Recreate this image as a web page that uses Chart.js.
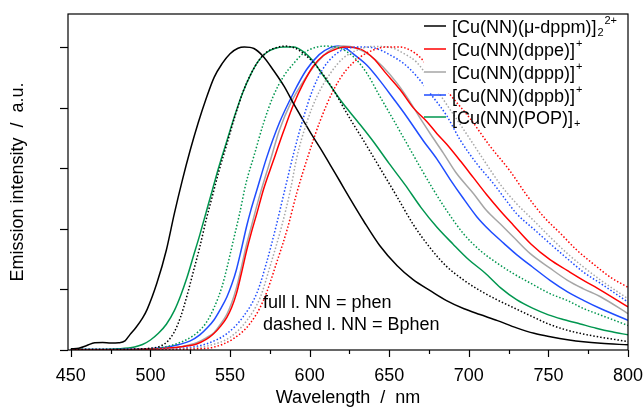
<!DOCTYPE html>
<html><head><meta charset="utf-8">
<script src="https://cdn.jsdelivr.net/npm/chart.js@4/dist/chart.umd.min.js"></script>
<style>html,body{margin:0;padding:0;background:#fff;}#wrap{width:643px;height:412px;}</style>
</head><body><div id="wrap"><canvas id="c" width="643" height="412"></canvas></div>
<script>
// ---- axis ticks ----
const wavelengthTicks = [450,475,500,525,550,575,600,625,650,675,700,725,750,775,800];
const wavelengthLabels = [450,500,550,600,650,700,750,800];
const intensityTicks = [0,0.2,0.4,0.6,0.8,1.0];

// ---- series (wavelength nm, normalised intensity) ----
// full lines: NN = phen
const phenDppm = [[450,0.004],[455,0.006],[460,0.015],[465,0.024],[470,0.025],[475,0.023],[480,0.024],[484,0.03],[487,0.05],[491,0.075],[495,0.105],[498,0.135],[504,0.22],[510,0.33],[515,0.45],[520,0.56],[525,0.66],[530,0.75],[535,0.83],[540,0.9],[545,0.945],[550,0.978],[555,0.996],[559,1.0],[565,0.995],[571,0.968],[577,0.925],[584,0.87],[590,0.812],[596,0.758],[602,0.705],[608,0.655],[613,0.61],[619,0.557],[625,0.503],[634,0.425],[644,0.345],[655,0.278],[665,0.232],[676,0.195],[686,0.163],[697,0.136],[707,0.117],[718,0.097],[730,0.073],[741,0.055],[752,0.043],[762,0.034],[772,0.027],[783,0.022],[800,0.017]];
const phenDppe = [[450,0.001],[480,0.001],[500,0.003],[510,0.006],[520,0.011],[529,0.02],[535,0.035],[539.5,0.053],[544,0.078],[548,0.108],[551,0.14],[554,0.186],[557,0.25],[560.5,0.33],[563.5,0.39],[566.8,0.45],[571,0.53],[577,0.622],[583.5,0.72],[590,0.812],[596,0.88],[602,0.935],[608.6,0.972],[615,0.99],[622,1.0],[632,0.993],[640,0.963],[648,0.913],[657,0.858],[665,0.8],[674,0.752],[680,0.714],[686,0.68],[695,0.622],[703,0.568],[711,0.514],[720,0.458],[728,0.412],[739,0.35],[751,0.298],[762,0.262],[772,0.23],[783,0.197],[800,0.142]];
const phenDppp = [[450,0.001],[480,0.001],[510,0.006],[520,0.012],[529,0.024],[535,0.04],[540,0.058],[544,0.085],[548,0.118],[551,0.155],[554,0.205],[557,0.27],[560,0.34],[563,0.4],[566,0.46],[569,0.517],[575,0.62],[581,0.725],[588,0.814],[598,0.902],[606.5,0.96],[615,0.996],[621,1.003],[629.6,0.996],[638,0.972],[646,0.935],[655,0.88],[663,0.82],[669.4,0.765],[676,0.712],[684,0.65],[692,0.585],[703,0.516],[711,0.461],[720,0.415],[728,0.373],[738.6,0.318],[751,0.27],[762,0.23],[772,0.202],[783,0.175],[800,0.12]];
const phenDppb = [[450,0.001],[480,0.002],[500,0.004],[510,0.009],[518,0.018],[525,0.03],[531,0.05],[536,0.075],[540,0.1],[544,0.135],[548,0.175],[551,0.215],[554,0.265],[557,0.33],[560.5,0.41],[563,0.46],[566.8,0.527],[573,0.635],[581,0.75],[590,0.85],[598,0.925],[606,0.975],[613,0.998],[618,1.003],[623,0.995],[628,0.975],[636,0.94],[644,0.89],[652.6,0.83],[661,0.77],[671.5,0.69],[680,0.63],[688,0.565],[696.6,0.5],[705,0.44],[713,0.395],[722,0.352],[730,0.315],[740,0.274],[751,0.23],[762,0.192],[772,0.164],[783,0.136],[800,0.098]];
const phenPop = [[450,0.002],[470,0.002],[480,0.004],[490,0.01],[495,0.018],[500,0.033],[505,0.055],[510,0.085],[515,0.13],[519,0.18],[523,0.24],[527,0.31],[531,0.38],[535,0.455],[539,0.53],[543,0.605],[548,0.69],[553,0.775],[558,0.85],[563,0.91],[568,0.955],[573,0.982],[578,0.995],[584,1.0],[590,1.0],[596,0.985],[602,0.955],[608,0.91],[614,0.865],[620,0.82],[630,0.755],[640,0.688],[650,0.615],[660,0.545],[670,0.47],[680,0.405],[690,0.35],[700,0.298],[710,0.255],[720,0.205],[730,0.166],[740,0.138],[750,0.116],[760,0.1],[770,0.086],[780,0.072],[790,0.06],[800,0.05]];
// dashed lines: NN = Bphen
const bphenDppm = [[450,0.002],[490,0.003],[500,0.006],[506,0.012],[511,0.03],[515,0.06],[519,0.11],[523,0.18],[527,0.26],[531,0.34],[535,0.43],[539,0.51],[543,0.59],[548,0.68],[553,0.77],[558,0.85],[563,0.91],[568,0.955],[573,0.983],[579,0.998],[585,1.003],[591,0.996],[597,0.975],[603,0.945],[609,0.905],[615,0.858],[620,0.812],[626,0.758],[634,0.69],[644,0.602],[655,0.505],[665,0.415],[676,0.335],[686,0.276],[697,0.23],[707,0.196],[718,0.165],[728,0.14],[740,0.11],[750,0.086],[760,0.068],[770,0.055],[783,0.042],[800,0.028]];
const bphenDppe = [[450,0.001],[500,0.001],[530,0.004],[539.5,0.009],[552,0.037],[562.5,0.087],[571,0.164],[580,0.3],[586,0.4],[592,0.52],[599,0.64],[606.5,0.755],[615,0.858],[623,0.924],[632,0.968],[640,0.99],[648,1.0],[657,1.0],[663,0.99],[669,0.968],[679,0.905],[688.7,0.84],[700.8,0.764],[713,0.675],[726,0.59],[736.5,0.51],[747,0.44],[757.5,0.385],[768,0.329],[778,0.285],[789,0.24],[800,0.207]];
const bphenDppp = [[450,0.001],[500,0.002],[525,0.006],[537,0.015],[550,0.042],[560.5,0.097],[569,0.174],[575,0.274],[582.5,0.41],[588,0.53],[592,0.637],[598,0.748],[604.5,0.836],[613,0.913],[621,0.963],[630,0.99],[640,1.002],[650.5,0.999],[659,0.979],[667,0.951],[677,0.88],[688.7,0.79],[699,0.71],[709,0.63],[720,0.545],[730,0.483],[740.6,0.428],[751,0.373],[762,0.318],[772,0.274],[783,0.23],[800,0.169]];
const bphenDppb = [[450,0.001],[500,0.002],[520,0.006],[535,0.02],[548,0.054],[558,0.108],[567,0.19],[573,0.29],[579,0.41],[584,0.52],[590,0.65],[596,0.765],[602,0.86],[608,0.925],[615,0.97],[623,0.995],[634,1.0],[642,0.995],[650.5,0.974],[659,0.946],[667,0.905],[676,0.845],[686,0.774],[694.6,0.693],[705,0.615],[715.5,0.549],[724,0.49],[730,0.45],[740.6,0.4],[751,0.351],[762,0.301],[772,0.257],[783,0.219],[800,0.158]];
const bphenPop = [[450,0.001],[470,0.001],[500,0.004],[508,0.009],[515,0.018],[523,0.035],[530,0.06],[535,0.09],[540,0.14],[545,0.21],[548,0.27],[552,0.36],[556,0.45],[560,0.55],[565,0.64],[571,0.748],[577,0.836],[583.5,0.902],[590,0.946],[596,0.979],[604.5,1.0],[611,1.003],[619,0.996],[627.5,0.968],[636,0.913],[644,0.838],[652.6,0.76],[661,0.682],[669.4,0.604],[678,0.527],[686,0.461],[696.6,0.384],[707,0.329],[718,0.286],[728,0.252],[740,0.217],[751,0.186],[762,0.163],[772,0.137],[783,0.115],[800,0.081]];

const seriesColors = ['#000000','#ff0000','#a6a6a6','#1f4dff','#00964f'];
const legendLabels = [
  [['[Cu(NN)(μ-dppm)]',0],['2',-1],['2+',1]],
  [['[Cu(NN)(dppe)]',0],['+',1]],
  [['[Cu(NN)(dppp)]',0],['+',1]],
  [['[Cu(NN)(dppb)]',0],['+',1]],
  [['[Cu(NN)(POP)]',0],['+',-1]]
];
const noteLines = ['full l. NN = phen','dashed l. NN = Bphen'];

const FONT = '"Liberation Sans", Arial, sans-serif';
const fullSeries = [phenDppm, phenDppe, phenDppp, phenDppb, phenPop];
const dashSeries = [bphenDppm, bphenDppe, bphenDppp, bphenDppb, bphenPop];
const toXY = arr => arr.map(p => ({x:p[0], y:p[1]}));
const datasets = [];
dashSeries.forEach((s,i)=>datasets.push({data:toXY(s), borderColor:seriesColors[i], borderWidth:1.5, borderDash:[1.5,2], pointRadius:0, cubicInterpolationMode:'monotone', fill:false}));
fullSeries.forEach((s,i)=>datasets.push({data:toXY(s), borderColor:seriesColors[i], borderWidth:1.5, pointRadius:0, cubicInterpolationMode:'monotone', fill:false}));

const overlay = {
  id:'overlay',
  afterDatasetsDraw(chart){
    const {ctx, chartArea:a} = chart;
    ctx.save();
    // legend box (opaque)
    ctx.fillStyle = '#fff';
    ctx.fillRect(424, a.top+1, a.right-425, 78);
    const rowY = [26, 49, 72, 95, 117];
    legendLabels.forEach((parts,i)=>{
      const y = rowY[i];
      ctx.strokeStyle = seriesColors[i]; ctx.lineWidth = 1.5; ctx.setLineDash([]);
      ctx.beginPath(); ctx.moveTo(424, y); ctx.lineTo(446, y); ctx.stroke();
      let x = 452;
      ctx.fillStyle = '#000'; ctx.textBaseline = 'alphabetic'; ctx.textAlign = 'left';
      parts.forEach(([t,k])=>{
        if (k===0){ ctx.font = '18px '+FONT; ctx.fillText(t, x, y+6.5); x += ctx.measureText(t).width; }
        else { ctx.font = '11px '+FONT; const dy = k>0 ? -2 : 10; ctx.fillText(t, x+1, y+dy); x += ctx.measureText(t).width+1; }
      });
    });
    ctx.font = '18px '+FONT; ctx.fillStyle='#000'; ctx.textBaseline='middle';
    noteLines.forEach((t,i)=>ctx.fillText(t, 263, 303 + i*22.5));
    // frame and ticks
    const {x:xs, y:ys} = chart.scales;
    ctx.strokeStyle = '#000'; ctx.lineWidth = 1.2; ctx.setLineDash([]);
    ctx.strokeRect(a.left, a.top, a.right-a.left, a.bottom-a.top);
    wavelengthTicks.forEach(v=>{
      const px = Math.round(xs.getPixelForValue(v))+0.5;
      const len = wavelengthLabels.includes(v) ? 7 : 4;
      ctx.beginPath(); ctx.moveTo(px, a.bottom); ctx.lineTo(px, a.bottom+len); ctx.stroke();
    });
    intensityTicks.forEach(v=>{
      const py = Math.round(ys.getPixelForValue(v))+0.5;
      ctx.beginPath(); ctx.moveTo(a.left, py); ctx.lineTo(a.left-8, py); ctx.stroke();
    });
    ctx.restore();
  }
};

new Chart(document.getElementById('c'), {
  type:'line',
  data:{datasets},
  options:{
    responsive:false, animation:false, devicePixelRatio:1,
    layout:{padding:{top:14,right:15,left:0,bottom:0}},
    plugins:{legend:{display:false}, tooltip:{enabled:false}},
    scales:{
      x:{type:'linear', min:448.2, max:800,
        afterBuildTicks:s=>{ s.ticks = wavelengthLabels.map(v=>({value:v})); },
        afterFit:s=>{ s.height = 62; s.paddingLeft = 0; s.paddingRight = 0; },
        grid:{display:false}, border:{display:false},
        ticks:{color:'#000', font:{family:FONT,size:18}, padding:7, maxRotation:0, autoSkip:false, callback:v=>String(v)},
        title:{display:true, text:'Wavelength  /  nm', color:'#000', font:{family:FONT,size:18}, padding:{top:0,bottom:3}}
      },
      y:{type:'linear', min:0, max:1.109,
        afterBuildTicks:s=>{ s.ticks = intensityTicks.map(v=>({value:v})); },
        afterFit:s=>{ s.width = 68; s.paddingTop = 0; s.paddingBottom = 0; },
        grid:{display:false}, border:{display:false},
        ticks:{display:false},
        title:{display:true, text:'Emission intensity  /  a.u.', color:'#000', font:{family:FONT,size:18}, padding:{top:7,bottom:0}}
      }
    }
  },
  plugins:[overlay]
});
</script></body></html>
